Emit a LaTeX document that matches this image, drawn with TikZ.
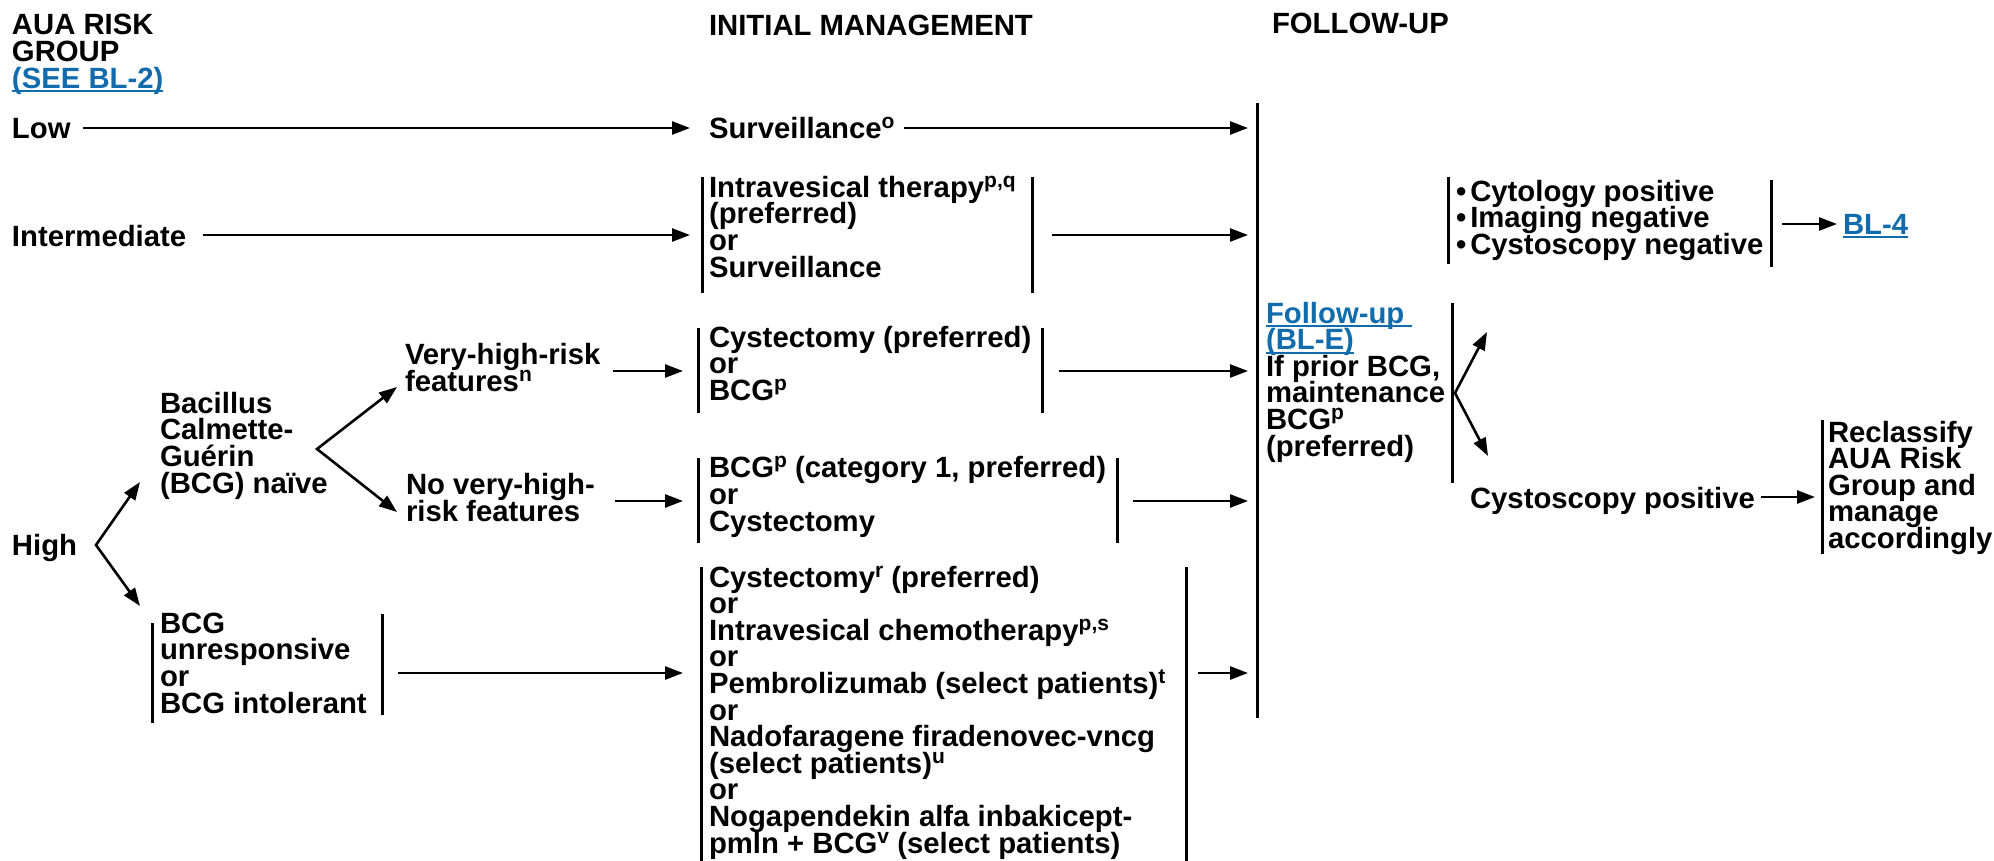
\documentclass[tikz,border=0pt]{standalone}
\usepackage{fontspec}
\setmainfont{Liberation Sans}
\usetikzlibrary{arrows.meta}
\definecolor{linkblue}{RGB}{17,108,173}
\setlength{\lineskiplimit}{-100pt}
\newsavebox\lnkbox
\newcommand{\lnk}[1]{\sbox\lnkbox{\color{linkblue}#1}{\color{linkblue}\rlap{\rule[-4pt]{\wd\lnkbox}{2pt}}}\usebox\lnkbox}
\newcommand{\sps}[1]{\raisebox{10pt}{\fontsize{21pt}{21pt}\selectfont #1}}
\tikzset{
  txt/.style={anchor=base west, inner sep=0pt, outer sep=0pt, align=left,
    font=\fontsize{29.3pt}{26.6pt}\selectfont\bfseries},
  arr/.style={line width=2.6pt, -{Triangle[length=18pt,width=13pt]}},
  arrtwo/.style={line width=2.6pt, {Triangle[length=18pt,width=13pt]}-{Triangle[length=18pt,width=13pt]}},
  brk/.style={line width=3pt},
}
\begin{document}
\begin{tikzpicture}[x=1pt,y=-1pt]
\fill[white] (0,0) rectangle (1994,860);
\useasboundingbox (0,0) rectangle (1994,860);

% headers (multi-line nodes are placed by the baseline of their last line)
\node[txt] (aua) at (12,88) {AUA RISK\\GROUP\\\lnk{(SEE BL-2)}};
\node[txt] (hinit) at (709,35) {INITIAL MANAGEMENT};
\node[txt] (hfu) at (1272,33) {FOLLOW-UP};

% text nodes
\node[txt] (low) at (12,138) {Low};
\node[txt] (surv) at (709,138) {Surveillance\sps{o}};
\node[txt] (inter) at (12,246) {Intermediate};
\node[txt] (ivt) at (709,277) {Intravesical therapy\sps{p,q}\\(preferred)\\or\\Surveillance};
\node[txt] (vhr) at (405,391) {Very-high-risk\\features\sps{n}};
\node[txt] (cys) at (709,400.5) {Cystectomy (preferred)\\or\\BCG\sps{p}};
\node[txt] (bac) at (160,493) {Bacillus\\Calmette-\\Guérin\\(BCG) naïve};
\node[txt] (nvhr) at (406,521) {No very-high-\\risk features};
\node[txt] (bcgone) at (709,531) {BCG\sps{p} (category 1, preferred)\\or\\Cystectomy};
\node[txt] (high) at (12,555) {High};
\node[txt] (bcgu) at (160,713) {BCG\\unresponsive\\or\\BCG intolerant};
\node[txt] (opts) at (709,853) {Cystectomy\sps{r} (preferred)\\or\\Intravesical chemotherapy\sps{p,s}\\or\\Pembrolizumab (select patients)\sps{t}\\or\\Nadofaragene firadenovec-vncg\\(select patients)\sps{u}\\or\\Nogapendekin alfa inbakicept-\\pmln + BCG\sps{v} (select patients)};
\node[txt] (fu) at (1266,456) {\lnk{Follow-up\ }\\\lnk{(BL-E)}\\If prior BCG,\\maintenance\\BCG\sps{p}\\(preferred)};
\node[txt] (bul) at (1456,254.5) {•\hspace{4pt}Cytology positive\\•\hspace{4pt}Imaging negative\\•\hspace{4pt}Cystoscopy negative};
\node[txt] (blfour) at (1843,234) {\lnk{BL-4}};
\node[txt] (cpos) at (1470,508) {Cystoscopy positive};
\node[txt] (recl) at (1828,548.5) {Reclassify\\AUA Risk\\Group and\\manage\\accordingly};

% bracket coordinates
\coordinate (ivtLa) at (702,177); \coordinate (ivtLb) at (702,293);
\coordinate (ivtRa) at (1032,177); \coordinate (ivtRb) at (1032,293);
\coordinate (cysLa) at (698,328); \coordinate (cysLb) at (698,413);
\coordinate (cysRa) at (1042,328); \coordinate (cysRb) at (1042,413);
\coordinate (bcoLa) at (698,458); \coordinate (bcoLb) at (698,543);
\coordinate (bcoRa) at (1117,458); \coordinate (bcoRb) at (1117,543);
\coordinate (bcuLa) at (152,623); \coordinate (bcuLb) at (152,723);
\coordinate (bcuRa) at (382,614); \coordinate (bcuRb) at (382,715);
\coordinate (optLa) at (701,567); \coordinate (optLb) at (701,862);
\coordinate (optRa) at (1186,567); \coordinate (optRb) at (1186,862);
\coordinate (fuTa) at (1257,103); \coordinate (fuTb) at (1257,718);
\coordinate (fuRa) at (1452,303); \coordinate (fuRb) at (1452,483);
\coordinate (bulLa) at (1448,177); \coordinate (bulLb) at (1448,264);
\coordinate (bulRa) at (1771,180); \coordinate (bulRb) at (1771,267);
\coordinate (recLa) at (1822,420); \coordinate (recLb) at (1822,554);

\foreach \a/\b in {ivtLa/ivtLb,ivtRa/ivtRb,cysLa/cysLb,cysRa/cysRb,bcoLa/bcoLb,bcoRa/bcoRb,
  bcuLa/bcuLb,bcuRa/bcuRb,optLa/optLb,optRa/optRb,fuTa/fuTb,fuRa/fuRb,bulLa/bulLb,bulRa/bulRb,recLa/recLb}
  \draw[brk] (\a) -- (\b);

% row levels
\coordinate (yLow) at (0,128);
\coordinate (yInt) at (0,235);
\coordinate (yVhr) at (0,371);
\coordinate (yNv) at (0,501);
\coordinate (yBu) at (0,673);
\coordinate (yBl) at (0,224);
\coordinate (yCp) at (0,497);

% horizontal connectors
\draw[arr, shorten <=12pt, shorten >=19pt] (low.east |- yLow) -- (surv.west |- yLow);
\draw[arr, shorten <=10pt, shorten >=9pt] (surv.east |- yLow) -- (fuTa |- yLow);
\draw[arr, shorten <=17pt, shorten >=12pt] (inter.east |- yInt) -- (ivtLa |- yInt);
\draw[arr, shorten <=20pt, shorten >=9pt] (ivtRa |- yInt) -- (fuTa |- yInt);
\draw[arr, shorten <=13pt, shorten >=15pt] (vhr.east |- yVhr) -- (cysLa |- yVhr);
\draw[arr, shorten <=17pt, shorten >=9pt] (cysRa |- yVhr) -- (fuTa |- yVhr);
\draw[arr, shorten <=20pt, shorten >=15pt] (nvhr.east |- yNv) -- (bcoLa |- yNv);
\draw[arr, shorten <=16pt, shorten >=9pt] (bcoRa |- yNv) -- (fuTa |- yNv);
\draw[arr, shorten <=16pt, shorten >=18pt] (bcuRa |- yBu) -- (optLa |- yBu);
\draw[arr, shorten <=12pt, shorten >=9pt] (optRa |- yBu) -- (fuTa |- yBu);
\draw[arr, shorten <=11pt, shorten >=6pt] (bulRa |- yBl) -- (blfour.west |- yBl);
\draw[arr, shorten <=6pt, shorten >=7pt] (cpos.east |- yCp) -- (recLa |- yCp);

% branching connectors
\coordinate (hs) at (96,545); \coordinate (hsU) at (140,482); \coordinate (hsD) at (140,606);
\coordinate (bs) at (317,449); \coordinate (bsU) at (397,387); \coordinate (bsD) at (397,512);
\coordinate (fs) at (1455,393); \coordinate (fsU) at (1487,332); \coordinate (fsD) at (1488,456);
\draw[arrtwo] (hsU) -- (hs) -- (hsD);
\draw[arrtwo] (bsU) -- (bs) -- (bsD);
\draw[arrtwo] (fsU) -- (fs) -- (fsD);
\end{tikzpicture}
\end{document}
